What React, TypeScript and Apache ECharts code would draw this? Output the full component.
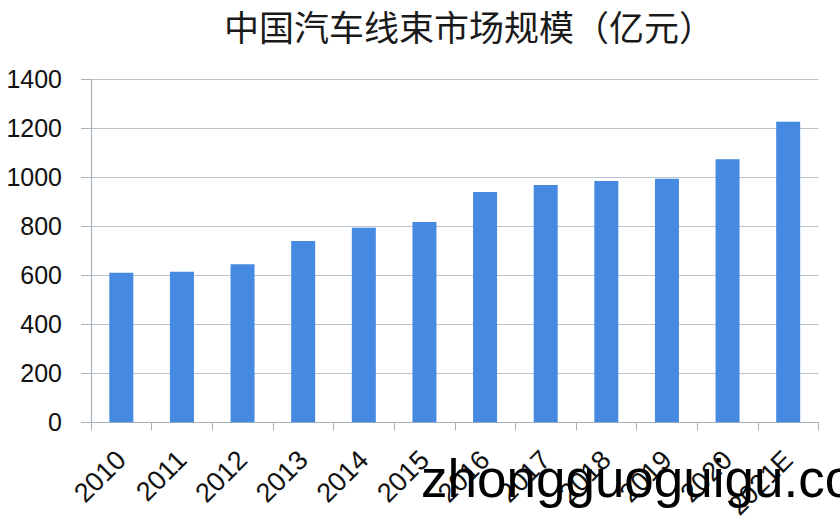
import React, { useEffect, useRef } from "react";
import * as echarts from "echarts";

const categories = ["2010", "2011", "2012", "2013", "2014", "2015", "2016", "2017", "2018", "2019", "2020", "2021E"];
const marketSize = [610, 615, 645, 740, 794, 818, 940, 969, 985, 994, 1074, 1227];
const yTicks = { min: 0, max: 1400, interval: 200 };
const titleText = "中国汽车线束市场规模（亿元）";
const watermarkText = "zhongguoguigu.co";

export default function App() {
  const ref = useRef<HTMLDivElement>(null);
  useEffect(() => {
    document.body.style.margin = "0";
    const chart = echarts.init(ref.current!, null, { renderer: "svg" });
    chart.setOption({
      animation: false,
      backgroundColor: "#ffffff",
      title: {
        text: titleText,
        left: 219,
        top: 3,
        textStyle: {
          fontFamily: "Noto Sans CJK SC",
          fontSize: 35,
          fontWeight: "normal",
          color: "#1a1a1a",
        },
      },
      grid: { left: 91, right: 21.5, top: 79.3, bottom: 105.7, containLabel: false },
      xAxis: {
        type: "category",
        data: categories,
        axisLine: { show: true, lineStyle: { color: "#a8b2ba", width: 1.2 } },
        axisTick: { show: true, length: 8, alignWithLabel: false, lineStyle: { color: "#a8b2ba" } },
        axisLabel: {
          rotate: 45,
          margin: 33,
          interval: 0,
          fontFamily: "Liberation Sans",
          fontSize: 27,
          color: "#111",
        },
      },
      yAxis: {
        type: "value",
        min: yTicks.min,
        max: yTicks.max,
        interval: yTicks.interval,
        axisLine: { show: true, lineStyle: { color: "#a8b2ba", width: 1.2 } },
        axisTick: { show: true, length: 10, lineStyle: { color: "#a8b2ba" } },
        splitLine: { show: true, lineStyle: { color: "#b9c4cb", width: 1.2 } },
        axisLabel: {
          margin: 29,
          fontFamily: "Liberation Sans",
          fontSize: 25,
          color: "#111",
          formatter: (v: number) => String(v),
        },
      },
      series: [
        {
          type: "bar",
          data: marketSize,
          barWidth: 24,
          itemStyle: { color: "#4589e0" },
        },
      ],
      graphic: [
        {
          type: "text",
          left: 421,
          top: 452,
          style: {
            text: watermarkText,
            fontFamily: "Liberation Sans",
            fontSize: 53,
            fill: "#000000",
          },
          z: 100,
        },
      ],
    });
    return () => chart.dispose();
  }, []);
  return <div ref={ref} style={{ width: 840, height: 528 }} />;
}
